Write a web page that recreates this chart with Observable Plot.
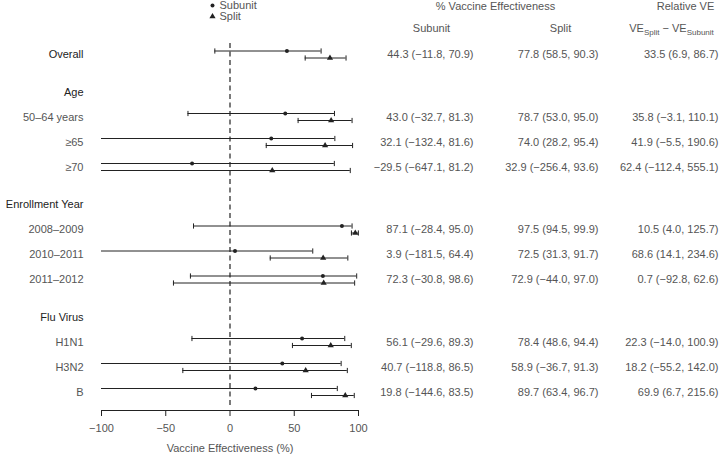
<!DOCTYPE html>
<html>
<head>
<meta charset="utf-8">
<script src="https://cdn.jsdelivr.net/npm/d3@7"></script>
<script src="https://cdn.jsdelivr.net/npm/@observablehq/plot@0.6"></script>
<style>
  html, body { margin: 0; padding: 0; background: #fff; }
  svg { font-family: "Liberation Sans", Arial, sans-serif; }
</style>
</head>
<body>
<div id="chart"></div>
<script>
// ---- data ----
const labels = ["Overall", "Age", "50–64 years", "≥65", "≥70", "Enrollment Year", "2008–2009", "2010–2011", "2011–2012", "Flu Virus", "H1N1", "H3N2", "B"];
const isHeading = [true, true, false, false, false, true, false, false, false, true, false, false, false];

const subunitVE    = [44.3, null, 43.0, 32.1, -29.5, null, 87.1, 3.9, 72.3, null, 56.1, 40.7, 19.8];
const subunitLower = [-11.8, null, -32.7, -132.4, -647.1, null, -28.4, -181.5, -30.8, null, -29.6, -118.8, -144.6];
const subunitUpper = [70.9, null, 81.3, 81.6, 81.2, null, 95.0, 64.4, 98.6, null, 89.3, 86.5, 83.5];

const splitVE    = [77.8, null, 78.7, 74.0, 32.9, null, 97.5, 72.5, 72.9, null, 78.4, 58.9, 89.7];
const splitLower = [58.5, null, 53.0, 28.2, -256.4, null, 94.5, 31.3, -44.0, null, 48.6, -36.7, 63.4];
const splitUpper = [90.3, null, 95.0, 95.4, 93.6, null, 99.9, 91.7, 97.0, null, 94.4, 91.3, 96.7];

const relVE    = [33.5, null, 35.8, 41.9, 62.4, null, 10.5, 68.6, 0.7, null, 22.3, 18.2, 69.9];
const relLower = [6.9, null, -3.1, -5.5, -112.4, null, 4.0, 14.1, -92.8, null, -14.0, -55.2, 6.7];
const relUpper = [86.7, null, 110.1, 190.6, 555.1, null, 125.7, 234.6, 62.6, null, 100.9, 142.0, 215.6];

const xTicks = [-100, -50, 0, 50, 100];
const xDomain = [-100, 100];
const seriesNames = ["Subunit", "Split"];

// ---- derived table ----
let pos = 0;
const rows = labels.map((label, i) => {
  if (i > 0) pos += isHeading[i] ? 1.5 : 1;
  return {label, heading: isHeading[i], pos, i};
});
const fmt = d3.format(".1f");
const ci = (e, l, u) => `${fmt(e)} (${fmt(l)}, ${fmt(u)})`;
const dataRows = rows.filter(r => subunitVE[r.i] != null);
const series = [];
for (const r of dataRows) {
  series.push({pos: r.pos, s: "Subunit", est: subunitVE[r.i], lo: subunitLower[r.i], hi: subunitUpper[r.i]});
  series.push({pos: r.pos, s: "Split", est: splitVE[r.i], lo: splitLower[r.i], hi: splitUpper[r.i]});
}
series.forEach(d => { d.loC = Math.max(d.lo, xDomain[0]); d.hiC = Math.min(d.hi, xDomain[1]); });
const subS = series.filter(d => d.s === "Subunit");
const splS = series.filter(d => d.s === "Split");

const capSymbol = {draw(ctx) { ctx.moveTo(0, -2.6); ctx.lineTo(0, 2.6); }};

const ink = "#222";
const txt = "#555";
const fs = 11;
const hdr = {fill: txt, fontSize: fs, lineAnchor: "middle", textAnchor: "middle"};

const chart = Plot.plot({
  width: 720,
  height: 454,
  marginLeft: 101,
  marginRight: 362,
  marginTop: 0,
  marginBottom: 44,
  style: {fontFamily: "Liberation Sans, Arial, sans-serif", fontSize: "11px", color: txt},
  x: {domain: xDomain},
  y: {domain: [0, 13.5], range: [54, 391.5], axis: null},
  marks: [
    // zero reference
    Plot.ruleX([0], {stroke: ink, strokeWidth: 1.2, strokeDasharray: "5,3.5", insetTop: 43, insetBottom: 5}),
    // axis
    Plot.frame({anchor: "bottom", stroke: ink}),
    Plot.axisX({ticks: xTicks, tickSize: 6, tickPadding: 8, stroke: ink, fill: txt, fontSize: fs, label: null, tickFormat: d3.format("d")}),
    Plot.text(["Vaccine Effectiveness (%)"], {frameAnchor: "bottom", dy: 38, ...hdr}),
    // error bars
    Plot.ruleY(subS, {y: "pos", x1: "loC", x2: "hiC", dy: -3.5, stroke: ink, strokeWidth: 1}),
    Plot.ruleY(splS, {y: "pos", x1: "loC", x2: "hiC", dy: 3.5, stroke: ink, strokeWidth: 1}),
    Plot.dot(subS.filter(d => d.lo >= xDomain[0]), {x: "lo", y: "pos", dy: -3.5, symbol: capSymbol, stroke: ink, fill: "none", strokeWidth: 1}),
    Plot.dot(subS.filter(d => d.hi <= xDomain[1]), {x: "hi", y: "pos", dy: -3.5, symbol: capSymbol, stroke: ink, fill: "none", strokeWidth: 1}),
    Plot.dot(splS.filter(d => d.lo >= xDomain[0]), {x: "lo", y: "pos", dy: 3.5, symbol: capSymbol, stroke: ink, fill: "none", strokeWidth: 1}),
    Plot.dot(splS.filter(d => d.hi <= xDomain[1]), {x: "hi", y: "pos", dy: 3.5, symbol: capSymbol, stroke: ink, fill: "none", strokeWidth: 1}),
    Plot.dot(subS, {x: "est", y: "pos", dy: -3.5, symbol: "circle", r: 2, fill: ink, stroke: "none"}),
    Plot.dot(splS, {x: "est", y: "pos", dy: 3.5, symbol: "triangle", r: 2.3, fill: ink, stroke: "none"}),
    // row labels
    Plot.text(rows, {y: "pos", text: "label", frameAnchor: "left", dx: -18, textAnchor: "end",
      fontWeight: d => d.heading ? "bold" : "normal", fill: d => d.heading ? "#222" : txt, fontSize: fs}),
    // table columns
    Plot.text(dataRows, {y: "pos", text: r => ci(subunitVE[r.i], subunitLower[r.i], subunitUpper[r.i]), frameAnchor: "right", dx: 115, textAnchor: "end", fill: txt, fontSize: fs}),
    Plot.text(dataRows, {y: "pos", text: r => ci(splitVE[r.i], splitLower[r.i], splitUpper[r.i]), frameAnchor: "right", dx: 240, textAnchor: "end", fill: txt, fontSize: fs}),
    Plot.text(dataRows, {y: "pos", text: r => ci(relVE[r.i], relLower[r.i], relUpper[r.i]), frameAnchor: "right", dx: 360, textAnchor: "end", fill: txt, fontSize: fs}),
    // headers
    Plot.text(["% Vaccine Effectiveness"], {frameAnchor: "top-right", dx: 137, dy: 6, ...hdr}),
    Plot.text(["Relative VE"], {frameAnchor: "top-right", dx: 327, dy: 6, ...hdr}),
    Plot.text([seriesNames[0]], {frameAnchor: "top-right", dx: 73, dy: 28, ...hdr}),
    Plot.text([seriesNames[1]], {frameAnchor: "top-right", dx: 202, dy: 28, ...hdr}),
    Plot.text(["VE"], {frameAnchor: "top-right", dx: 313, dy: 28, ...hdr, className: "relhdr"}),
    // legend
    Plot.dot([seriesNames[0]], {frameAnchor: "top-left", dx: 111, dy: 5, symbol: "circle", r: 2, fill: ink}),
    Plot.dot([seriesNames[1]], {frameAnchor: "top-left", dx: 111, dy: 16, symbol: "triangle", r: 2.3, fill: ink}),
    Plot.text([seriesNames[0]], {text: d => d, frameAnchor: "top-left", dx: 118, dy: 5, textAnchor: "start", lineAnchor: "middle", fill: txt, fontSize: fs}),
    Plot.text([seriesNames[1]], {text: d => d, frameAnchor: "top-left", dx: 118, dy: 16, textAnchor: "start", lineAnchor: "middle", fill: txt, fontSize: fs})
  ]
});

// subscripts for the relative VE header
d3.select(chart).selectAll(".relhdr text").each(function() {
  const t = d3.select(this);
  t.text(null);
  t.append("tspan").text("VE");
  t.append("tspan").attr("font-size", 8).attr("dy", 3).text(seriesNames[1]);
  t.append("tspan").attr("dy", -3).text(" − VE");
  t.append("tspan").attr("font-size", 8).attr("dy", 3).text(seriesNames[0]);
});

document.getElementById("chart").appendChild(chart);
</script>
</body>
</html>
